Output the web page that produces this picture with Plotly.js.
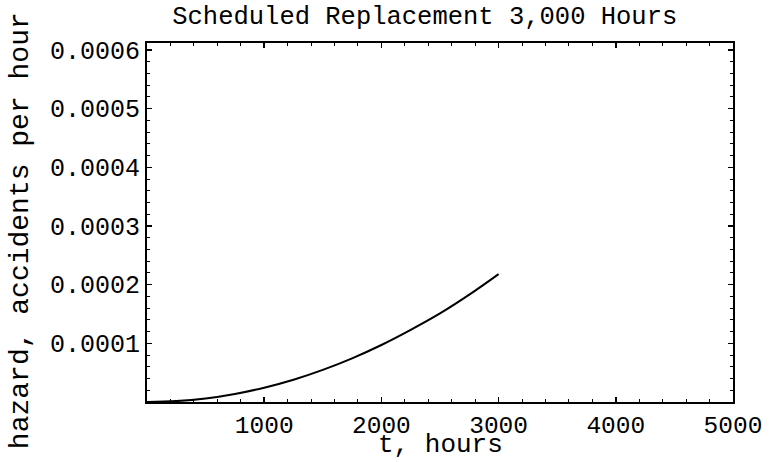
<!DOCTYPE html>
<html>
<head>
<meta charset="utf-8">
<script src="https://cdn.plot.ly/plotly-3.0.1.min.js"></script>
<style>html,body{margin:0;padding:0;background:#fff;}#chart{width:769px;height:462px;}</style>
</head>
<body>
<div id="chart"></div>
<script>
// hours
var hours = [0, 250, 500, 750, 1000, 1250, 1500, 1750, 2000, 2250, 2500, 2750, 3000];
// hazard, accidents per hour
var hazard = [0, 0.0000015, 0.000006, 0.0000137, 0.0000244, 0.000038, 0.0000548, 0.0000745, 0.0000972, 0.000123, 0.000151, 0.000183, 0.000218];
var xTickVals = [1000, 2000, 3000, 4000, 5000];
var xTickText = ["1000", "2000", "3000", "4000", "5000"];
var yTickVals = [0.0001, 0.0002, 0.0003, 0.0004, 0.0005, 0.0006];
var yTickText = ["0.0001", "0.0002", "0.0003", "0.0004", "0.0005", "0.0006"];
var chartTitle = "Scheduled Replacement 3,000 Hours";
var xTitle = "t, hours";
var yTitle = "hazard, accidents per hour";

var font = "Liberation Mono, Courier New, monospace";
var trace = {
  x: hours, y: hazard, type: "scatter", mode: "lines",
  line: {color: "#000", width: 2, shape: "spline"},
  hoverinfo: "skip"
};
var layout = {
  width: 769, height: 462,
  margin: {l: 147, r: 36, t: 43, b: 60},
  paper_bgcolor: "#fff", plot_bgcolor: "#fff",
  showlegend: false,
  font: {family: font, color: "#000", size: 25},
  title: {text: chartTitle, font: {family: font, size: 25.5, color: "#000"},
          x: 0.474, xref: "paper", xanchor: "center", y: 0.986, yref: "container", yanchor: "top"},
  xaxis: {
    range: [0, 5000], showgrid: false, zeroline: false,
    showline: true, linecolor: "#000", linewidth: 2, mirror: "allticks",
    ticks: "inside", ticklen: 5, tickwidth: 1.5, tickcolor: "#000",
    tickvals: xTickVals, ticktext: xTickText,
    tickfont: {family: font, size: 24.5, color: "#000"},
    minor: {dtick: 200, tick0: 0, ticks: "inside", ticklen: 3, tickwidth: 1, tickcolor: "#000", showgrid: false}
  },
  yaxis: {
    range: [0, 0.000612], showgrid: false, zeroline: false,
    showline: true, linecolor: "#000", linewidth: 2, mirror: "allticks",
    ticks: "inside", ticklen: 5, tickwidth: 1.5, tickcolor: "#000",
    tickvals: yTickVals, ticktext: yTickText,
    tickfont: {family: font, size: 25, color: "#000"},
    minor: {dtick: 0.00002, tick0: 0, ticks: "inside", ticklen: 3, tickwidth: 1, tickcolor: "#000", showgrid: false}
  },
  annotations: [{
    text: yTitle, textangle: -90, showarrow: false,
    xref: "paper", yref: "paper", x: -0.2167, y: 0.476,
    xanchor: "center", yanchor: "middle",
    font: {family: font, size: 28, color: "#000"}
  }, {
    text: xTitle, showarrow: false,
    xref: "paper", yref: "paper", x: 0.5, y: -0.167,
    xanchor: "center", yanchor: "bottom",
    font: {family: font, size: 26, color: "#000"}
  }]
};
Plotly.newPlot("chart", [trace], layout, {displayModeBar: false, staticPlot: true});
</script>
</body>
</html>
